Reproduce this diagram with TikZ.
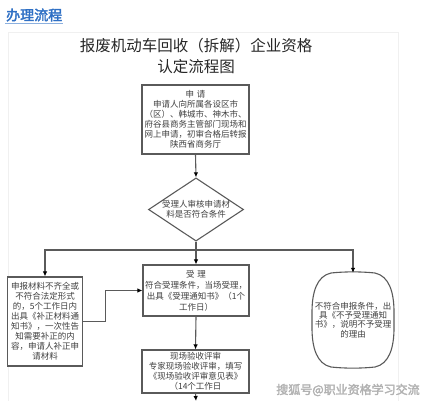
\documentclass[tikz,border=0pt]{standalone}
\usepackage{fontspec}
\setmainfont{Noto Sans CJK SC}
\newfontfamily\cjkbold[FakeBold=2.5]{Noto Sans CJK SC}
\usetikzlibrary{shapes.geometric,arrows.meta}
\definecolor{linegray}{HTML}{5A5A5A}
\definecolor{textgray}{HTML}{404040}
\definecolor{titleblue}{HTML}{2E6FC4}
\begin{document}
\begin{tikzpicture}[x=1pt,y=-1pt,
  boxtext/.style={align=center, inner sep=0pt, text=textgray, font=\fontsize{8.5}{10}\selectfont},
  box/.style={boxtext, draw=linegray, line width=1.1pt, fill=white},
  conn/.style={draw=linegray, line width=1.1pt},
  arr/.style={conn, -{Latex[length=5pt,width=4.5pt,color=black]}}]
\useasboundingbox (0,0) rectangle (433,400);
% faint panel
\draw[gray!12, line width=0.8pt] (8,401) -- (8,32) -- (398,32) -- (398,401);
% heading
\node[font=\cjkbold\fontsize{14}{14}\selectfont, text=titleblue, anchor=west, inner sep=1pt] (hd) at (5,15) {办理流程};
\draw[titleblue!55, line width=0.8pt] ([yshift=-1pt]hd.south west) -- ([yshift=-1pt]hd.south east);
% title
\node[font=\fontsize{15.5}{21}\selectfont, align=center, text=black!85] (ttl) at (196,56) {报废机动车回收（拆解）企业资格\\认定流程图};
% nodes
\node[box, minimum width=107pt, minimum height=69pt] (sq) at (195.5,119.5)
  {申\,\,请\\申请人向所属各设区市\\（区）、韩城市、神木市、\\府谷县商务主管部门现场和\\网上申请，初审合格后转报\\陕西省商务厅};
\node[boxtext, draw=linegray, line width=1.1pt, diamond, shape aspect=1.5, minimum width=95pt, minimum height=63pt] (dm) at (196,209.5)
  {受理人审核申请材\\料是否符合条件};
\coordinate (sp) at (196,250);
\node[box, minimum width=106pt, minimum height=51pt, font=\fontsize{8.5}{11}\selectfont] (sl) at (196,290.5)
  {受\,\,理\\符合受理条件，当场受理，\\出具《受理通知书》（1个\\工作日）};
\node[box, minimum width=75pt, minimum height=89pt] (bz) at (45,321.5)
  {申报材料不齐全或\\不符合法定形式\\的，5个工作日内\\出具《补正材料通\\知书》，一次性告\\知需要补正的内\\容，申请人补正申\\请材料};
\node[box, minimum width=107pt, minimum height=43pt] (xc) at (195.5,371.5)
  {现场验收评审\\专家现场验收评审，填写\\《现场验收评审意见表》\\（14个工作日};
\node[boxtext, minimum width=82pt, minimum height=94pt, font=\fontsize{8.5}{9.3}\selectfont] (bq) at (353,320)
  {不符合申报条件，出\\具《不予受理通知\\书》，说明不予受理\\的理由};
\begin{scope}[shift={(bq.center)}]
\draw[conn] (-22,-47) .. controls (-8,-48.5) and (8,-48.5) .. (22,-47)
  .. controls (36,-44) and (41,-28) .. (41,-8) -- (41,8)
  .. controls (41,28) and (36,44) .. (22,47)
  .. controls (8,48.5) and (-8,48.5) .. (-22,47)
  .. controls (-36,44) and (-41,28) .. (-41,8) -- (-41,-8)
  .. controls (-41,-28) and (-36,-44) .. (-22,-47) -- cycle;
\end{scope}
\coordinate (out) at (196,401);
% connectors
\draw[arr] (sq.south) -- (dm.north);
\draw[conn] (dm.south) -- (sp);
\draw[arr] (sp) -- (sl.north);
\draw[arr] (sp) -| (bz.north);
\draw[arr] (sp) -| (bq.north);
\draw[arr] (bz.east) -- ++(22,0) |- (sl.west);
\draw[arr] (sl.south) -- (xc.north);
\draw[arr] (xc.south) -- (out);
% watermark
\node[font=\cjkbold\fontsize{12}{12}\selectfont, text=gray!60] (wm) at (348,390) {搜狐号@职业资格学习交流};
\end{tikzpicture}
\end{document}
